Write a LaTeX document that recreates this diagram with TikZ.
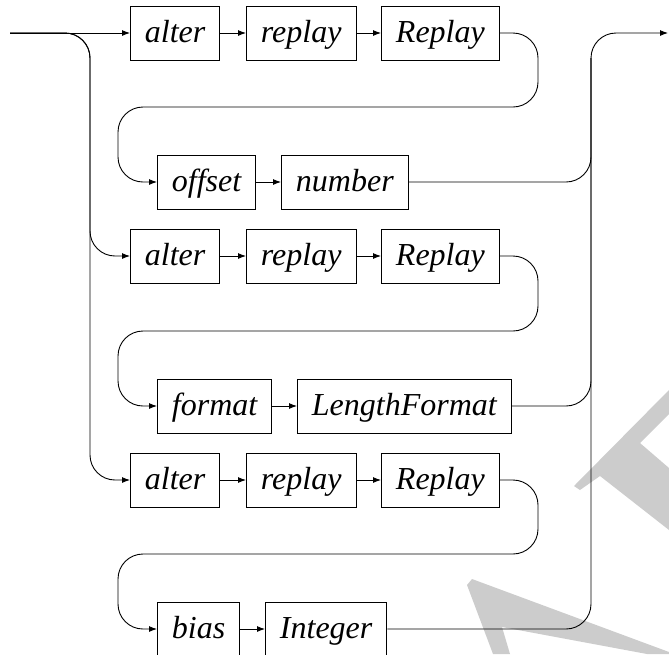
\documentclass[tikz,border=0pt]{standalone}
\usepackage{fontspec}
\setmainfont{Liberation Serif}
\usetikzlibrary{arrows.meta}

\begin{document}
\begin{tikzpicture}[
  x=1pt, y=-1pt, >={Latex[length=8pt,width=6pt]}, line width=0.9pt,
  every node/.style={font=\fontsize{32}{38}\selectfont\itshape},
  term/.style={draw, anchor=west, inner xsep=14.5pt, inner ysep=10pt,
               text height=26pt, text depth=8pt},
  rail/.style={rounded corners=25pt},
  wmark/.style={fill=black!20, draw=none},
]
  \useasboundingbox (0,0) rectangle (669,654);

  % watermark pieces
  \fill[wmark] (669,390) -- (574,486) -- (580,490) -- (600,476) -- (669,530)
    -- (669,468) -- (640,443) -- (669,414) -- cycle;
  \fill[wmark] (467,585) -- (472,579) -- (669,652) -- (669,654) -- (647,654)
    -- (502,627) -- (510,654) -- (493,654) -- cycle;

  \coordinate (start) at (10,33);
  \coordinate (stop) at (668,33);
  \coordinate (railtop) at (591,58);

  \node[term] (alterA) at (130,33) {alter};
  \node[term] (replayA) at (246,33) {replay};
  \node[term] (ReplayA) at (381,33) {Replay};
  \node[term] (offset) at (157,182) {offset};
  \node[term] (number) at (281,182) {number};
  \node[term] (alterB) at (130,256) {alter};
  \node[term] (replayB) at (246,256) {replay};
  \node[term] (ReplayB) at (381,256) {Replay};
  \node[term] (format) at (157,406) {format};
  \node[term] (lformat) at (297,406) {LengthFormat};
  \node[term] (alterC) at (130,480) {alter};
  \node[term] (replayC) at (246,480) {replay};
  \node[term] (ReplayC) at (381,480) {Replay};
  \node[term] (bias) at (157,629) {bias};
  \node[term] (integer) at (265,629) {Integer};

  \draw[->] (start) -- (alterA);
  \draw[->, rail] (start) -| (90,256) -- (alterB);
  \draw[->, rail] (start) -| (90,480) -- (alterC);
  \foreach \r in {A,B,C} {
    \draw[->] (alter\r) -- (replay\r);
    \draw[->] (replay\r) -- (Replay\r);
  }

  \draw[->, rail] (ReplayA.east) -| (538,107) -| (118,182) -- (offset);
  \draw[->] (offset) -- (number);
  \draw[->, rail] (number) -| (591,33) -- (stop);

  \draw[->, rail] (ReplayB.east) -| (538,331) -| (118,406) -- (format);
  \draw[->] (format) -- (lformat);
  \draw[rail] (lformat.east) -| (railtop);

  \draw[->, rail] (ReplayC.east) -| (538,554) -| (118,629) -- (bias);
  \draw[->] (bias) -- (integer);
  \draw[rail] (integer.east) -| (railtop);
\end{tikzpicture}
\end{document}
